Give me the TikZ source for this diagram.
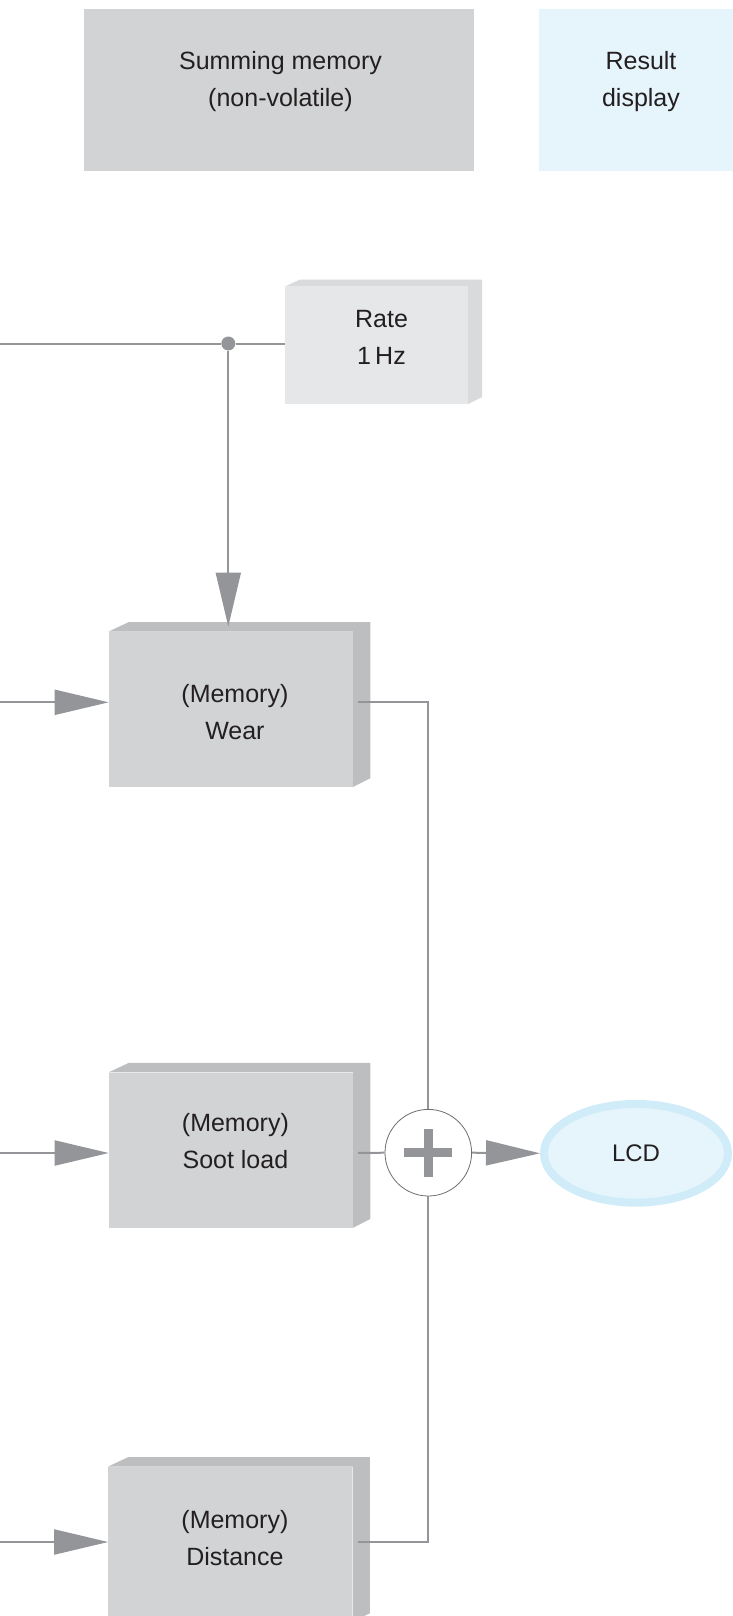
\documentclass[tikz,border=0pt]{standalone}
\usepackage{fontspec}
\setmainfont{Liberation Sans}
\usetikzlibrary{arrows.meta, shapes.geometric}

\definecolor{wiregray}{HTML}{939598}
\definecolor{memfront}{HTML}{D1D3D4}
\definecolor{memside}{HTML}{BCBEC0}
\definecolor{ratefront}{HTML}{E6E7E8}
\definecolor{rateside}{HTML}{D9DADB}
\definecolor{lcdfill}{HTML}{E6F5FC}
\definecolor{lcdrim}{HTML}{D1ECF9}
\definecolor{sumrim}{HTML}{6D6E71}
\definecolor{inktext}{HTML}{231F20}

\begin{document}
\begin{tikzpicture}[x=1pt, y=-1pt,
    every node/.style={font=\fontsize{25}{37}\selectfont, text=inktext, align=center},
    legendbox/.style={rectangle, minimum width=390pt, minimum height=162pt, inner sep=0pt},
    ratebox/.style={rectangle, fill=ratefront, minimum width=183pt, minimum height=117pt, inner sep=0pt},
    membox/.style={rectangle, fill=memfront, minimum width=244pt, minimum height=155pt, inner sep=0pt},
    wire/.style={draw=wiregray, line width=2pt},
    feed/.style={wire, -{Triangle[length=54pt, width=25pt]}},
    plusbar/.style={draw=wiregray, line width=9.5pt}]
    \useasboundingbox (0,0) rectangle (733,1616);

    % Define nodes
    \node[legendbox, fill=memfront] (summem) at (279.4,90.2) {};
    \node (summemtext) at (280.5,81.5) {Summing memory\\(non-volatile)};
    \node[legendbox, fill=lcdfill, minimum width=206pt] (result) at (642,90.2) {};
    \node (resulttext) at (641,81.5) {Result\\display};

    \node[ratebox, label={[xshift=5pt, yshift=7.8pt]center:{Rate\\1\,Hz}}] (rate) at (376.5,345.3) {};
    \node[circle, fill=wiregray, minimum size=14pt, inner sep=0pt] (tap) at (228.3,343.5) {};

    \node[membox, label={[xshift=4pt, yshift=-3pt]center:{(Memory)\\Wear}}] (wear) at (230.9,709.2) {};
    \node[membox, label={[xshift=4.5pt, yshift=8.5pt]center:{(Memory)\\Soot load}}] (soot) at (230.9,1150) {};
    \node[membox, label={[xshift=4.5pt, yshift=6.5pt]center:{(Memory)\\Distance}}] (dist) at (230.4,1544.2) {};

    \node[circle, draw=sumrim, fill=white, line width=0.8pt, minimum size=86.6pt, inner sep=0pt] (sum) at (428.3,1152.7) {};
    \node[ellipse, fill=lcdfill, draw=lcdrim, line width=8pt, minimum width=184pt, minimum height=98.7pt, inner sep=0pt, font=\fontsize{24}{28}\selectfont] (lcd) at (636,1153.3) {LCD};

    % Box depth
    \fill[rateside] (rate.north west) -- ++(15,-7) -- ([xshift=14pt,yshift=7pt]rate.north east)
        -- ([xshift=14pt,yshift=7pt]rate.south east) -- (rate.south east) -- (rate.north east) -- cycle;
    \foreach \b in {wear, soot, dist}
        \fill[memside] (\b.north west) -- ++(20,-9.4) -- ([xshift=17.3pt,yshift=9.4pt]\b.north east)
            -- ([xshift=17.3pt,yshift=8.7pt]\b.south east) -- (\b.south east) -- (\b.north east) -- cycle;

    % Draw edges
    \coordinate (inR) at (0,343.5);
    \coordinate (inW) at (0,702.3);
    \coordinate (inS) at (0,1153);
    \coordinate (inD) at (0,1542);
    \draw[wire] (inR) -- (tap) -- (tap -| rate.west);
    \draw[feed, shorten >=5pt] (tap) -- (tap |- wear.north);
    \draw[feed] (inW) -- (inW -| wear.west);
    \draw[feed] (inS) -- (inS -| soot.west);
    \draw[feed] (inD) -- (inD -| dist.west);
    \draw[wire, shorten <=5pt] (inW -| wear.east) -| (sum.north);
    \draw[wire, shorten <=5pt] (inS -| soot.east) -- (sum.west);
    \draw[wire, shorten <=5pt] (inD -| dist.east) -| (sum.south);
    \draw[feed] (sum.east) -- (lcd.west);

    % Plus sign
    \draw[plusbar] ([xshift=-24pt]sum.center) -- ([xshift=24pt]sum.center);
    \draw[plusbar] ([yshift=-24pt]sum.center) -- ([yshift=24pt]sum.center);

\end{tikzpicture}
\end{document}
